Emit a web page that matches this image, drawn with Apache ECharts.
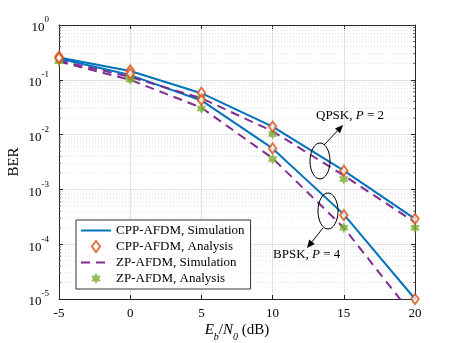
<!DOCTYPE html>
<html>
<head>
<meta charset="utf-8">
<script src="https://cdn.jsdelivr.net/npm/echarts@6/dist/echarts.min.js"></script>
<style>
  html, body { margin: 0; padding: 0; background: #fff; }
  #chart { width: 458px; height: 343px; }
</style>
</head>
<body>
<div id="chart"></div>
<script>
// Eb/N0 points (dB)
const snr = [-5, 0, 5, 10, 15, 20];

// BER curves, QPSK P=2 (upper) and BPSK P=4 (lower)
const cppSimQpsk = [0.255, 0.145, 0.057, 0.014, 0.0022, 0.00029];
const cppSimBpsk = [0.245, 0.122, 0.042, 0.0056, 0.00035, 0.00001];
const cppAnaQpsk = [0.265, 0.148, 0.058, 0.014, 0.0022, 0.00029];
const cppAnaBpsk = [0.25, 0.13, 0.043, 0.0056, 0.00034, 0.00001];
const zpSimQpsk = [0.225, 0.113, 0.046, 0.0115, 0.0018, 0.00025];
const zpSimBpsk = [0.215, 0.1, 0.031, 0.0037, 0.0002, 0.0000045];
const zpAnaQpsk = [0.225, 0.11, 0.046, 0.0103, 0.00155, 0.0002];
const zpAnaBpsk = [0.22, 0.101, 0.03, 0.0036, 0.0002, null];

// y minor grid positions (2..9 x 10^k)
const minorVals = [];
for (let k = -5; k < 0; k++) {
    for (let m = 2; m <= 9; m++) minorVals.push(m * Math.pow(10, k));
}

const FONT = '"Liberation Serif", "Times New Roman", serif';
const BLUE = '#0072BD', ORANGE = '#D95319', PURPLE = '#7E2F8E', GREEN = '#77AC30';
const HEXAGRAM = 'path://M0,-10L2.887,-5L8.66,-5L5.774,0L8.66,5L2.887,5L0,10L-2.887,5L-8.66,5L-5.774,0L-8.66,-5L-2.887,-5Z';
const DIAMOND = 'path://M0,-10L7.5,0L0,10L-7.5,0Z';

const pairs = (ys) => snr.map((x, i) => [x, ys[i]]).filter(p => p[1] != null);

const simLine = (name, ys, color, dashed) => ({
    name: name,
    type: 'line',
    data: pairs(ys),
    symbol: 'none',
    z: 3,
    lineStyle: { color: color, width: 2, type: dashed ? [9, 6] : 'solid' },
    itemStyle: { color: color }
});

const anaScatter = (name, ys, symbol, color, hollow, size) => ({
    name: name,
    type: 'scatter',
    data: pairs(ys),
    symbol: symbol,
    symbolSize: size,
    symbolKeepAspect: true,
    z: 4,
    itemStyle: hollow
        ? { color: '#fff', borderColor: color, borderWidth: 2 }
        : { color: color, borderWidth: 0 }
});

// arrow helper (pixel coords, annotation only)
function arrow(x1, y1, x2, y2) {
    const len = Math.hypot(x2 - x1, y2 - y1);
    const dx = (x2 - x1) / len, dy = (y2 - y1) / len;
    const bx = x2 - dx * 8, by = y2 - dy * 8;
    return [
        { type: 'line', z: 20, shape: { x1: x1, y1: y1, x2: bx, y2: by }, style: { stroke: '#000', lineWidth: 1 } },
        { type: 'polygon', z: 20, shape: { points: [[x2, y2], [bx - dy * 3.5, by + dx * 3.5], [bx + dy * 3.5, by - dx * 3.5]] }, style: { fill: '#000' } }
    ];
}

const supLabel = (v) => '{b|10}{s|' + Math.round(Math.log10(v)) + '}';
const hideMarker = { opacity: 0 };

const chart = echarts.init(document.getElementById('chart'));

const option = {
    animation: false,
    backgroundColor: '#fff',
    textStyle: { fontFamily: FONT },
    grid: { left: 59, right: 43, top: 25, bottom: 44, outerBoundsMode: 'none', containLabel: false },
    legend: {
        orient: 'vertical',
        left: 76,
        top: 220,
        padding: [4, 6, 4, 4],
        itemWidth: 30,
        itemHeight: 11,
        itemGap: 3,
        backgroundColor: '#fff',
        borderColor: '#333',
        borderWidth: 1,
        z: 10,
        textStyle: { fontFamily: FONT, fontSize: 13, color: '#000' },
        data: [
            { name: 'CPP-AFDM, Simulation', itemStyle: hideMarker },
            { name: 'CPP-AFDM, Analysis' },
            { name: 'ZP-AFDM, Simulation', itemStyle: hideMarker },
            { name: 'ZP-AFDM, Analysis' }
        ]
    },
    xAxis: [{
        type: 'value',
        min: -5, max: 20, interval: 5,
        name: '{i|E}{sub|b}{n|/}{i|N}{sub|0}{n| (dB)}',
        nameLocation: 'middle',
        nameGap: 24,
        nameMoveOverlap: false,
        nameTextStyle: {
            rich: {
                i: { fontFamily: FONT, fontSize: 15, fontStyle: 'italic', color: '#000', verticalAlign: 'top', lineHeight: 19 },
                n: { fontFamily: FONT, fontSize: 15, color: '#000', verticalAlign: 'top', lineHeight: 19 },
                sub: { fontFamily: FONT, fontSize: 10, color: '#000', fontStyle: 'italic', verticalAlign: 'bottom', lineHeight: 11 }
            }
        },
        axisLine: { show: true, onZero: false, lineStyle: { color: '#262626', width: 1 } },
        axisTick: { inside: true, length: 4, lineStyle: { color: '#262626' } },
        axisLabel: { fontFamily: FONT, fontSize: 13, color: '#000', margin: 8 },
        splitLine: { show: true, lineStyle: { color: '#e3e3e3', width: 1 } }
    }, {
        type: 'value',
        position: 'top',
        min: -5, max: 20, interval: 5,
        axisLine: { show: true, onZero: false, lineStyle: { color: '#262626', width: 1 } },
        axisTick: { inside: true, length: 4, lineStyle: { color: '#262626' } },
        axisLabel: { show: false },
        splitLine: { show: false }
    }],
    yAxis: [{
        type: 'log',
        logBase: 10,
        min: 1e-5, max: 1,
        name: 'BER',
        nameLocation: 'middle',
        nameGap: 37,
        nameMoveOverlap: false,
        nameTextStyle: { fontFamily: FONT, fontSize: 15, color: '#000' },
        axisLine: { show: true, onZero: false, lineStyle: { color: '#262626', width: 1 } },
        axisTick: { inside: true, length: 4, lineStyle: { color: '#262626' } },
        axisLabel: {
            margin: 10,
            formatter: supLabel,
            rich: {
                b: { fontFamily: FONT, fontSize: 13, color: '#000', verticalAlign: 'bottom', lineHeight: 19 },
                s: { fontFamily: FONT, fontSize: 9, color: '#000', verticalAlign: 'top', lineHeight: 10 }
            }
        },
        splitLine: { show: true, lineStyle: { color: '#e3e3e3', width: 1 } }
    }, {
        type: 'log',
        logBase: 10,
        min: 1e-5, max: 1,
        position: 'right',
        axisLine: { show: true, onZero: false, lineStyle: { color: '#262626', width: 1 } },
        axisTick: { inside: true, length: 4, lineStyle: { color: '#262626' } },
        axisLabel: { show: false },
        splitLine: { show: false }
    }],
    series: [
        {
            // minor log grid + minor ticks
            type: 'custom',
            silent: true,
            z: 1,
            data: minorVals.map(v => [v]),
            renderItem: function (params, api) {
                const v = api.value(0);
                const a = api.coord([-5, v]);
                const b = api.coord([20, v]);
                return {
                    type: 'group',
                    children: [
                        { type: 'line', shape: { x1: a[0], y1: a[1], x2: b[0], y2: b[1] },
                          style: { stroke: '#d0d0d0', lineWidth: 0.7, lineDash: [1, 2] } },
                        { type: 'line', shape: { x1: a[0], y1: a[1], x2: a[0] + 2, y2: a[1] },
                          style: { stroke: '#262626', lineWidth: 0.7 } },
                        { type: 'line', shape: { x1: b[0] - 2, y1: b[1], x2: b[0], y2: b[1] },
                          style: { stroke: '#262626', lineWidth: 0.7 } }
                    ]
                };
            }
        },
        simLine('CPP-AFDM, Simulation', cppSimQpsk, BLUE, false),
        simLine('CPP-AFDM, Simulation', cppSimBpsk, BLUE, false),
        simLine('ZP-AFDM, Simulation', zpSimQpsk, PURPLE, true),
        simLine('ZP-AFDM, Simulation', zpSimBpsk, PURPLE, true),
        anaScatter('ZP-AFDM, Analysis', zpAnaQpsk, HEXAGRAM, GREEN, false, 11),
        anaScatter('ZP-AFDM, Analysis', zpAnaBpsk, HEXAGRAM, GREEN, false, 11),
        anaScatter('CPP-AFDM, Analysis', cppAnaQpsk, DIAMOND, ORANGE, true, 10),
        anaScatter('CPP-AFDM, Analysis', cppAnaBpsk, DIAMOND, ORANGE, true, 10)
    ],
    graphic: [
        { type: 'ellipse', shape: { cx: 320, cy: 161, rx: 10, ry: 18 }, style: { fill: 'none', stroke: '#000', lineWidth: 1 }, z: 20 },
        { type: 'ellipse', shape: { cx: 328, cy: 211, rx: 10, ry: 18 }, style: { fill: 'none', stroke: '#000', lineWidth: 1 }, z: 20 },
        ...arrow(324, 145, 343, 125),
        ...arrow(323, 228, 307, 248),
        {
            type: 'text', left: 316, top: 109, z: 20,
            style: {
                text: '{n|QPSK, }{i|P}{n| = 2}',
                rich: {
                    n: { fontFamily: FONT, fontSize: 13, fill: '#000' },
                    i: { fontFamily: FONT, fontSize: 13, fontStyle: 'italic', fill: '#000' }
                }
            }
        },
        {
            type: 'text', left: 273, top: 248, z: 20,
            style: {
                text: '{n|BPSK, }{i|P}{n| = 4}',
                rich: {
                    n: { fontFamily: FONT, fontSize: 13, fill: '#000' },
                    i: { fontFamily: FONT, fontSize: 13, fontStyle: 'italic', fill: '#000' }
                }
            }
        }
    ]
};

chart.setOption(option);
</script>
</body>
</html>
